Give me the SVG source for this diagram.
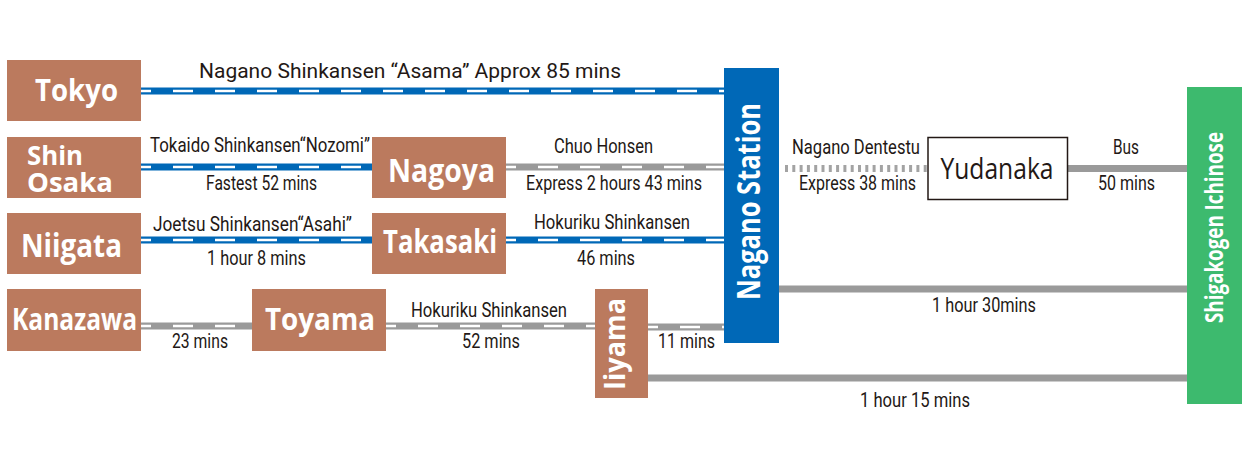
<svg xmlns="http://www.w3.org/2000/svg" width="1249" height="466" viewBox="0 0 1249 466">
<style>
.box{fill:#bb7a5e}
.nl{font-family:"Open Sans","Liberation Sans",sans-serif;font-weight:bold;fill:#ffffff}
.lb{font-family:Roboto,"Liberation Sans",sans-serif;font-size:20px;fill:#231815}
.blue{stroke:#0068b7;stroke-width:7;fill:none}
.gray{stroke:#9a9a9a;stroke-width:7;fill:none}
.dash{stroke:#ffffff;stroke-width:2.6;stroke-dasharray:20 22;stroke-dashoffset:10;fill:none}
.dot{stroke:#a3a3a3;stroke-width:7;stroke-dasharray:3 4.3;fill:none}
</style>
<rect width="1249" height="466" fill="#ffffff"/>
<g id="connectors">
<path class="blue" d="M141 91H724"/><path class="dash" d="M141 91H724"/>
<path class="blue" d="M141 167H372"/><path class="dash" d="M141 167H372"/>
<path class="gray" d="M506 167H724"/><path class="dash" d="M506 167H724"/>
<path class="blue" d="M141 240H372"/><path class="dash" d="M141 240H372"/>
<path class="blue" d="M506 240H724"/><path class="dash" d="M506 240H724"/>
<path class="gray" d="M141 326H252"/><path class="dash" d="M141 326H252"/>
<path class="gray" d="M386 326H595"/><path class="dash" d="M386 326H595"/>
<path class="gray" d="M648 327H724"/><path class="dash" d="M648 327H724"/>
<path class="dot" d="M785 168.5H928"/>
<path class="gray" d="M1068 168.5H1187"/>
<path class="gray" d="M779 289H1187"/>
<path class="gray" d="M648 378H1187"/>
<text class="lb" x="410" y="78" text-anchor="middle" textLength="422" lengthAdjust="spacingAndGlyphs">Nagano Shinkansen “Asama” Approx 85 mins</text>
<text class="lb" x="260" y="152" text-anchor="middle" textLength="220" lengthAdjust="spacingAndGlyphs">Tokaido Shinkansen“Nozomi”</text>
<text class="lb" x="261.5" y="190" text-anchor="middle" textLength="111" lengthAdjust="spacingAndGlyphs">Fastest 52 mins</text>
<text class="lb" x="603.5" y="152.5" text-anchor="middle" textLength="99" lengthAdjust="spacingAndGlyphs">Chuo Honsen</text>
<text class="lb" x="614" y="190" text-anchor="middle" textLength="176" lengthAdjust="spacingAndGlyphs">Express 2 hours 43 mins</text>
<text class="lb" x="856" y="154" text-anchor="middle" textLength="128" lengthAdjust="spacingAndGlyphs">Nagano Dentestu</text>
<text class="lb" x="857.5" y="190" text-anchor="middle" textLength="117" lengthAdjust="spacingAndGlyphs">Express 38 mins</text>
<text class="lb" x="1126" y="154" text-anchor="middle" textLength="26" lengthAdjust="spacingAndGlyphs">Bus</text>
<text class="lb" x="1126.5" y="190" text-anchor="middle" textLength="57" lengthAdjust="spacingAndGlyphs">50 mins</text>
<text class="lb" x="252.5" y="230.5" text-anchor="middle" textLength="199" lengthAdjust="spacingAndGlyphs">Joetsu Shinkansen“Asahi”</text>
<text class="lb" x="256.5" y="265" text-anchor="middle" textLength="99" lengthAdjust="spacingAndGlyphs">1 hour 8 mins</text>
<text class="lb" x="612" y="229" text-anchor="middle" textLength="156" lengthAdjust="spacingAndGlyphs">Hokuriku Shinkansen</text>
<text class="lb" x="606" y="265" text-anchor="middle" textLength="58" lengthAdjust="spacingAndGlyphs">46 mins</text>
<text class="lb" x="489" y="316.5" text-anchor="middle" textLength="156" lengthAdjust="spacingAndGlyphs">Hokuriku Shinkansen</text>
<text class="lb" x="491" y="347.5" text-anchor="middle" textLength="58" lengthAdjust="spacingAndGlyphs">52 mins</text>
<text class="lb" x="200" y="347.5" text-anchor="middle" textLength="56" lengthAdjust="spacingAndGlyphs">23 mins</text>
<text class="lb" x="686.5" y="347.5" text-anchor="middle" textLength="57" lengthAdjust="spacingAndGlyphs">11 mins</text>
<text class="lb" x="984" y="312" text-anchor="middle" textLength="104" lengthAdjust="spacingAndGlyphs">1 hour 30mins</text>
<text class="lb" x="915" y="406.5" text-anchor="middle" textLength="110" lengthAdjust="spacingAndGlyphs">1 hour 15 mins</text>
</g>
<g id="tokyo"><rect class="box" x="7" y="60" width="134" height="61"/><text class="nl" x="76.5" y="101" font-size="30" text-anchor="middle" textLength="83" lengthAdjust="spacingAndGlyphs">Tokyo</text></g>
<g id="shin-osaka"><rect class="box" x="7" y="137" width="134" height="61"/><text class="nl" x="27" y="165" font-size="27" textLength="56" lengthAdjust="spacingAndGlyphs">Shin</text><text class="nl" x="27" y="192" font-size="27" textLength="86" lengthAdjust="spacingAndGlyphs">Osaka</text></g>
<g id="niigata"><rect class="box" x="7" y="213" width="134" height="61"/><text class="nl" x="71.5" y="257" font-size="32" text-anchor="middle" textLength="101" lengthAdjust="spacingAndGlyphs">Niigata</text></g>
<g id="kanazawa"><rect class="box" x="7" y="289" width="134" height="62"/><text class="nl" x="74.5" y="330" font-size="31" text-anchor="middle" textLength="125" lengthAdjust="spacingAndGlyphs">Kanazawa</text></g>
<g id="nagoya"><rect class="box" x="372" y="137" width="134" height="61"/><text class="nl" x="441.5" y="182" font-size="32" text-anchor="middle" textLength="107" lengthAdjust="spacingAndGlyphs">Nagoya</text></g>
<g id="takasaki"><rect class="box" x="372" y="213" width="134" height="61"/><text class="nl" x="440" y="253" font-size="32" text-anchor="middle" textLength="114" lengthAdjust="spacingAndGlyphs">Takasaki</text></g>
<g id="toyama"><rect class="box" x="252" y="289" width="134" height="62"/><text class="nl" x="320" y="330" font-size="31" text-anchor="middle" textLength="110" lengthAdjust="spacingAndGlyphs">Toyama</text></g>
<g id="iiyama"><rect class="box" x="595" y="289" width="53" height="109"/><text class="nl" transform="translate(625 344) rotate(-90)" font-size="28" text-anchor="middle" textLength="92" lengthAdjust="spacingAndGlyphs">Iiyama</text></g>
<g id="nagano-station"><rect x="724" y="68" width="55" height="275" fill="#0068b7"/><text class="nl" transform="translate(760 201.5) rotate(-90)" font-size="32" text-anchor="middle" textLength="197" lengthAdjust="spacingAndGlyphs">Nagano Station</text></g>
<g id="yudanaka"><rect x="928" y="137.5" width="139.5" height="62" fill="#ffffff" stroke="#231815" stroke-width="1.5"/><text x="997" y="179" font-family="'Open Sans','Liberation Sans',sans-serif" font-size="29" fill="#231815" text-anchor="middle" textLength="113" lengthAdjust="spacingAndGlyphs">Yudanaka</text></g>
<g id="shigakogen-ichinose"><rect x="1187" y="87" width="55" height="317" fill="#3dba6e"/><text class="nl" transform="translate(1223 227.5) rotate(-90)" font-size="25" text-anchor="middle" textLength="191" lengthAdjust="spacingAndGlyphs">Shigakogen Ichinose</text></g>
</svg>
